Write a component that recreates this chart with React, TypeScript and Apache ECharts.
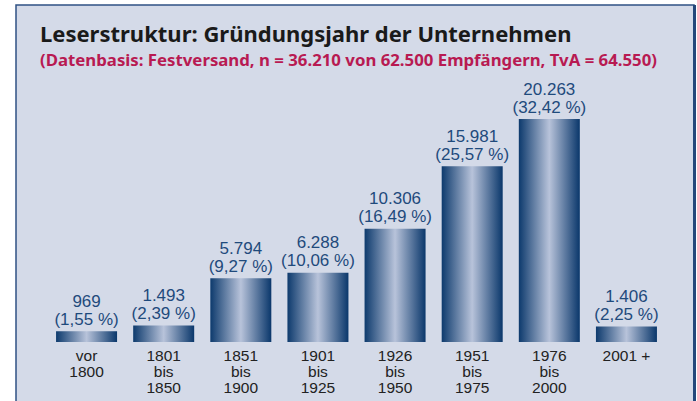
import React, { useEffect, useRef } from "react";
import * as echarts from "echarts";

const categories = [
  "vor\n1800",
  "1801\nbis\n1850",
  "1851\nbis\n1900",
  "1901\nbis\n1925",
  "1926\nbis\n1950",
  "1951\nbis\n1975",
  "1976\nbis\n2000",
  "2001 +",
];
const values = [969, 1493, 5794, 6288, 10306, 15981, 20263, 1406];
const percents = ["1,55", "2,39", "9,27", "10,06", "16,49", "25,57", "32,42", "2,25"];

const titleText = "Leserstruktur: Gründungsjahr der Unternehmen";
const subtitleText = "(Datenbasis: Festversand, n = 36.210 von 62.500 Empfängern, TvA = 64.550)";

function fmt(n: number): string {
  return String(n).replace(/\B(?=(\d{3})+(?!\d))/g, ".");
}

export default function App() {
  const ref = useRef<HTMLDivElement>(null);
  useEffect(() => {
    document.body.style.margin = "0";
    const chart = echarts.init(ref.current!, undefined, { renderer: "svg" });
    const font = "Noto Sans";
    const labelFont = "Liberation Sans";
    chart.setOption({
      animation: false,
      backgroundColor: "#ffffff",
      graphic: [
        {
          type: "rect",
          shape: { x: 16, y: 5, width: 678, height: 410 },
          style: { fill: "#d4dae8", stroke: "#2f5284", lineWidth: 1.5 },
          z: -10,
        },
        {
          type: "rect",
          shape: { x: 693, y: 5, width: 3, height: 410 },
          style: { fill: "#25487a" },
          z: -9,
        },
        {
          type: "text",
          x: 40,
          y: 22,
          style: {
            text: titleText,
            font: `bold 22px "${font}"`,
            fill: "#1a1a1a",
          },
        },
        {
          type: "text",
          x: 40,
          y: 51,
          style: {
            text: subtitleText,
            font: `bold 16.8px "${font}"`,
            fill: "#b81a52",
          },
        },
      ],
      grid: { left: 48, right: 32, top: 100, bottom: 59 },
      xAxis: {
        type: "category",
        data: categories,
        axisLine: { show: false },
        axisTick: { show: false },
        axisLabel: {
          interval: 0,
          margin: 5,
          color: "#222222",
          fontFamily: labelFont,
          fontSize: 15.5,
          lineHeight: 16,
        },
      },
      yAxis: {
        type: "value",
        min: 0,
        max: 22000,
        show: false,
        splitLine: { show: false },
      },
      series: [
        {
          type: "bar",
          data: values,
          barWidth: 61,
          itemStyle: {
            color: new echarts.graphic.LinearGradient(0, 0, 1, 0, [
              { offset: 0, color: "#0d3a6d" },
              { offset: 0.5, color: "#b8c3da" },
              { offset: 1, color: "#0a376b" },
            ]),
          },
          label: {
            show: true,
            position: "top",
            distance: 3,
            color: "#1f4a7c",
            fontFamily: labelFont,
            fontSize: 17,
            lineHeight: 18,
            formatter: (p: any) => `${fmt(values[p.dataIndex])}\n(${percents[p.dataIndex]} %)`,
          },
        },
      ],
    });
    return () => chart.dispose();
  }, []);
  return <div ref={ref} style={{ width: 697, height: 401 }} />;
}
